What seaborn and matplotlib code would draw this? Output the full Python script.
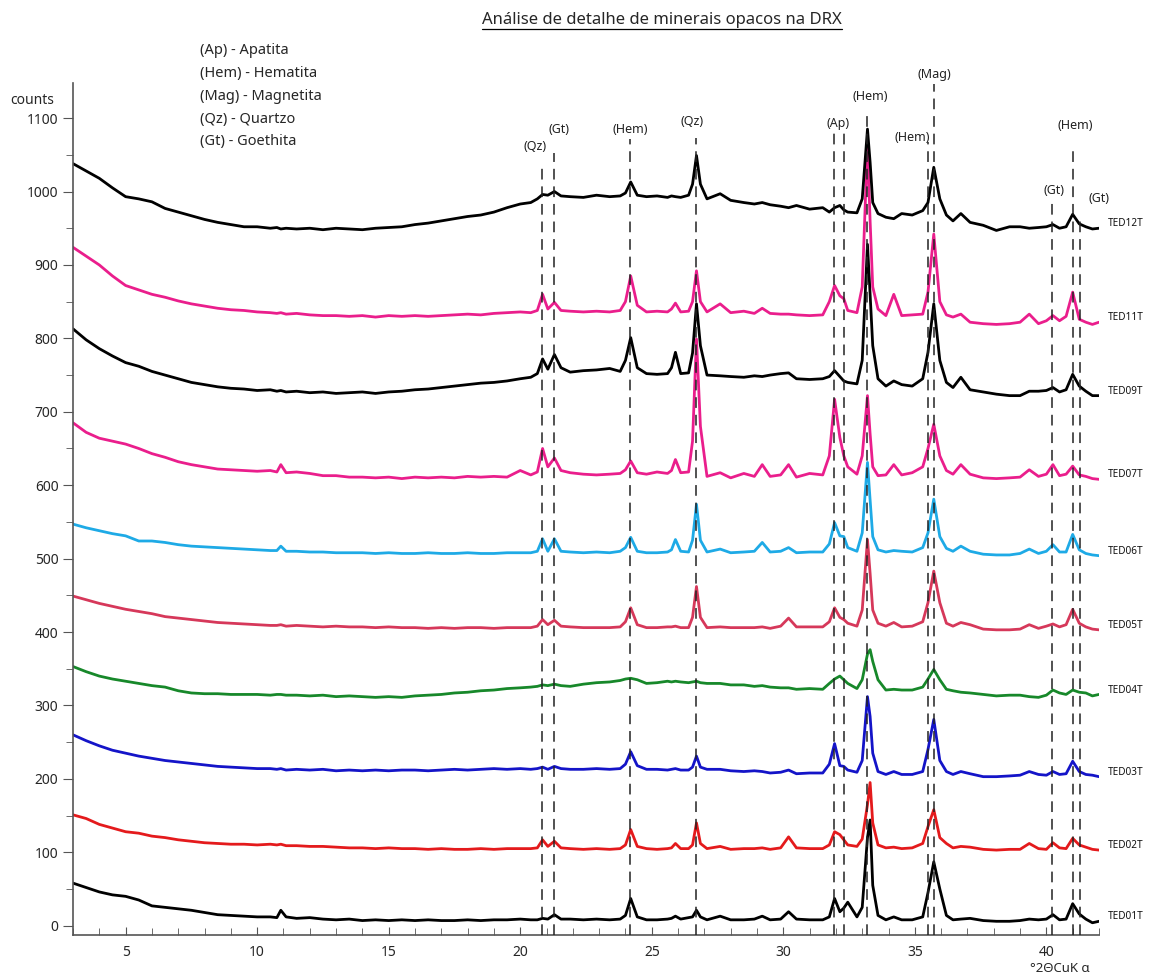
import numpy as np
import pandas as pd
import matplotlib
matplotlib.use("Agg")
import matplotlib.pyplot as plt
from matplotlib.ticker import MultipleLocator
from matplotlib.lines import Line2D
import seaborn as sns

# ---------------- data ----------------
two_theta = [3.0, 3.5, 4.0, 4.5, 5.0, 5.5, 6.0, 6.5, 7.0, 7.5,
             8.0, 8.5, 9.0, 9.5, 10.0, 10.5, 10.75, 10.9, 11.1, 11.5,
             12.0, 12.5, 13.0, 13.5, 14.0, 14.5, 15.0, 15.5, 16.0, 16.5,
             17.0, 17.5, 18.0, 18.5, 19.0, 19.5, 20.0, 20.4, 20.65, 20.85,
             21.05, 21.3, 21.55, 21.9, 22.4, 22.9, 23.4, 23.8, 24.0, 24.2,
             24.45, 24.8, 25.2, 25.6, 25.75, 25.9, 26.1, 26.4, 26.55, 26.7,
             26.85, 27.1, 27.6, 28.0, 28.5, 28.9, 29.2, 29.5, 29.9, 30.2,
             30.5, 31.0, 31.5, 31.75, 31.95, 32.15, 32.3, 32.45, 32.8, 33.0,
             33.2, 33.3, 33.4, 33.6, 33.9, 34.2, 34.5, 34.9, 35.3, 35.5,
             35.72, 35.95, 36.2, 36.45, 36.75, 37.1, 37.6, 38.1, 38.6, 39.0,
             39.35, 39.7, 40.0, 40.25, 40.5, 40.75, 41.0, 41.25, 41.5, 41.75,
             42.0]

TED01T = [58, 52, 46, 42, 40, 35, 27, 25, 23, 21,
          18, 15, 14, 13, 12, 12, 11, 21, 12, 10,
          11, 9, 8, 9, 7, 8, 7, 8, 7, 8,
          7, 7, 8, 7, 8, 8, 9, 8, 8, 10,
          9, 15, 9, 9, 8, 9, 8, 9, 14, 37,
          12, 8, 8, 9, 10, 13, 9, 11, 12, 21,
          12, 8, 13, 8, 8, 9, 13, 8, 9, 19,
          9, 8, 8, 12, 37, 19, 24, 32, 12, 25,
          120, 144, 55, 14, 8, 12, 8, 8, 12, 45,
          87, 50, 14, 8, 9, 10, 7, 6, 6, 7,
          9, 8, 9, 15, 8, 9, 30, 16, 9, 4,
          6]

TED02T = [151, 146, 138, 133, 128, 126, 122, 120, 117, 115,
          113, 112, 111, 111, 110, 111, 110, 111, 109, 109,
          108, 108, 107, 106, 106, 105, 106, 105, 105, 104,
          105, 104, 104, 105, 104, 105, 105, 105, 106, 117,
          108, 115, 106, 105, 104, 105, 104, 105, 110, 131,
          108, 105, 104, 105, 106, 112, 105, 105, 110, 140,
          112, 105, 108, 104, 105, 105, 106, 104, 106, 121,
          106, 105, 105, 110, 128, 124, 117, 110, 108, 118,
          165, 195, 140, 110, 106, 107, 105, 106, 112, 135,
          158, 120, 112, 106, 108, 107, 104, 103, 104, 104,
          112, 105, 104, 113, 106, 105, 119, 110, 107, 104,
          103]

TED03T = [260, 252, 245, 239, 235, 231, 228, 225, 223, 221,
          219, 217, 216, 215, 214, 214, 213, 214, 212, 213,
          212, 213, 211, 212, 211, 212, 211, 212, 212, 211,
          212, 213, 212, 213, 214, 213, 214, 213, 214, 216,
          213, 217, 214, 213, 213, 214, 213, 214, 220, 237,
          218, 213, 213, 212, 213, 214, 212, 212, 216, 231,
          216, 213, 213, 211, 210, 211, 210, 208, 209, 212,
          207, 208, 208, 220, 248, 218, 217, 212, 209, 225,
          312, 285, 235, 210, 206, 210, 206, 206, 210, 240,
          281, 225, 210, 206, 210, 207, 203, 203, 204, 205,
          210, 206, 205, 210, 206, 207, 224, 210, 206, 205,
          203]

TED04T = [353, 346, 340, 336, 333, 330, 327, 325, 320, 317,
          316, 316, 315, 315, 315, 314, 315, 315, 314, 314,
          313, 314, 312, 313, 312, 311, 312, 311, 313, 314,
          315, 317, 318, 320, 321, 323, 324, 325, 326, 328,
          327, 329, 327, 326, 329, 331, 332, 334, 336, 337,
          335, 330, 331, 333, 332, 333, 332, 331, 332, 333,
          331, 330, 330, 328, 328, 326, 327, 325, 324, 324,
          322, 323, 322, 330, 336, 340, 335, 330, 323, 335,
          370, 376, 360, 335, 321, 322, 321, 321, 325, 336,
          349, 335, 322, 320, 318, 317, 315, 313, 314, 314,
          312, 311, 314, 321, 317, 315, 321, 318, 317, 313,
          315]

TED05T = [449, 444, 439, 435, 431, 428, 425, 421, 419, 417,
          415, 413, 412, 411, 410, 409, 409, 410, 408, 409,
          408, 407, 408, 407, 407, 406, 407, 406, 406, 405,
          406, 405, 406, 406, 405, 406, 406, 406, 408, 417,
          410, 416, 408, 407, 406, 406, 406, 407, 414, 433,
          410, 406, 406, 407, 407, 408, 406, 406, 420, 462,
          420, 406, 407, 406, 406, 406, 407, 405, 408, 419,
          407, 407, 407, 414, 433, 420, 417, 412, 408, 430,
          526, 480, 430, 412, 408, 413, 407, 408, 414, 440,
          483, 440, 412, 408, 413, 410, 404, 403, 403, 404,
          410, 405, 408, 411, 407, 410, 431, 412, 407, 404,
          403]

TED06T = [547, 542, 538, 534, 531, 524, 524, 522, 519, 517,
          516, 515, 514, 513, 512, 511, 511, 517, 510, 510,
          509, 509, 508, 508, 508, 507, 508, 507, 507, 508,
          507, 507, 508, 507, 507, 508, 508, 508, 510, 527,
          510, 527, 510, 509, 508, 509, 508, 510, 515, 529,
          510, 508, 508, 509, 512, 526, 510, 509, 525, 574,
          525, 509, 513, 508, 509, 510, 522, 509, 510, 515,
          508, 509, 509, 520, 549, 531, 530, 515, 510, 535,
          631, 580, 530, 512, 509, 511, 510, 509, 515, 535,
          581, 530, 514, 510, 517, 510, 506, 505, 505, 507,
          513, 507, 510, 519, 509, 509, 533, 512, 507, 505,
          504]

TED07T = [685, 672, 664, 660, 656, 650, 643, 638, 632, 628,
          625, 622, 621, 620, 619, 620, 618, 628, 617, 618,
          616, 613, 613, 611, 611, 610, 611, 609, 611, 610,
          611, 610, 612, 611, 612, 611, 620, 614, 618, 650,
          625, 637, 620, 617, 615, 614, 615, 616, 621, 633,
          617, 615, 618, 616, 620, 635, 617, 618, 660, 799,
          680, 612, 617, 610, 616, 612, 628, 612, 614, 628,
          611, 616, 614, 640, 717, 665, 640, 625, 615, 640,
          722, 670, 625, 613, 614, 628, 614, 617, 625, 650,
          683, 640, 620, 615, 628, 615, 610, 609, 610, 611,
          621, 612, 615, 628, 613, 615, 626, 614, 612, 609,
          608]

TED09T = [813, 798, 786, 776, 767, 762, 755, 750, 745, 740,
          737, 734, 732, 731, 729, 730, 728, 729, 727, 728,
          726, 727, 725, 726, 727, 725, 727, 728, 730, 731,
          733, 735, 737, 739, 740, 742, 745, 747, 752, 772,
          758, 778, 760, 754, 756, 757, 759, 755, 770, 801,
          760, 752, 751, 752, 760, 781, 752, 753, 780, 847,
          790, 750, 749, 748, 747, 749, 748, 750, 752, 753,
          745, 744, 745, 748, 756, 748, 742, 740, 738, 770,
          928, 860, 790, 745, 735, 742, 737, 735, 745, 781,
          847, 770, 740, 733, 747, 730, 727, 724, 722, 722,
          728, 728, 729, 733, 727, 730, 751, 735, 728, 722,
          722]

TED11T = [924, 912, 900, 885, 872, 866, 860, 856, 851, 847,
          844, 841, 839, 838, 836, 835, 834, 835, 833, 834,
          832, 831, 831, 830, 831, 829, 831, 830, 831, 830,
          831, 832, 833, 832, 834, 835, 836, 835, 838, 860,
          840, 849, 838, 837, 836, 837, 836, 838, 850, 885,
          845, 836, 837, 836, 840, 848, 836, 837, 850, 892,
          850, 836, 847, 835, 837, 834, 841, 834, 833, 833,
          832, 831, 832, 850, 872, 858, 854, 838, 835, 870,
          1065, 960, 870, 840, 831, 860, 831, 832, 833, 863,
          942, 850, 832, 829, 833, 822, 820, 819, 820, 822,
          833, 820, 824, 831, 824, 830, 863, 826, 822, 819,
          822]

TED12T = [1038, 1028, 1018, 1005, 993, 990, 986, 977, 972, 967,
          962, 958, 955, 952, 952, 950, 951, 949, 950, 949,
          950, 948, 950, 949, 948, 950, 951, 952, 955, 957,
          960, 963, 966, 968, 972, 978, 983, 985, 990, 996,
          995, 1000, 994, 993, 992, 995, 993, 994, 998, 1013,
          995, 993, 994, 992, 994, 993, 992, 995, 1010, 1049,
          1010, 990, 997, 988, 985, 983, 985, 982, 980, 978,
          981, 976, 978, 972, 978, 981, 975, 972, 971, 990,
          1085, 1040, 985, 970, 965, 963, 970, 968, 974, 985,
          1033, 990, 968, 960, 970, 958, 954, 947, 952, 952,
          950, 951, 952, 955, 950, 952, 969, 956, 952, 949,
          950]

sample_names = ["TED01T", "TED02T", "TED03T", "TED04T", "TED05T",
                "TED06T", "TED07T", "TED09T", "TED11T", "TED12T"]
sample_values = [TED01T, TED02T, TED03T, TED04T, TED05T,
                 TED06T, TED07T, TED09T, TED11T, TED12T]
sample_colors = ["#000000", "#e41a1c", "#1414c8", "#17882a", "#d6385a",
                 "#1eaae6", "#ea1e8c", "#000000", "#ea1e8c", "#000000"]

# reference peak lines: position, label, label y, line top
peak_pos = [20.83, 21.30, 24.17, 26.70, 31.93, 32.29, 33.20, 35.50, 35.74, 40.22, 41.02, 41.27]
peak_lab = ["(Qz)", "(Gt)", "(Hem)", "(Qz)", "", "(Ap)", "(Hem)", "(Hem)", "(Mag)", "(Gt)", "(Hem)", "(Gt)"]
peak_top = [1040, 1053, 1072, 1073, 1083, 1083, 1106, 1068, 1147, 986, 1061, 967]
label_x = [20.55, 21.48, 24.17, 26.55, 32.1, 32.1, 33.3, 34.9, 35.73, 40.3, 41.1, 42.0]
label_y = [1061, 1085, 1084, 1096, 1092, 1092, 1129, 1074, 1160, 1002, 1090, 990]

legend_lines = ["(Ap) - Apatita", "(Hem) - Hematita", "(Mag) - Magnetita",
                "(Qz) - Quartzo", "(Gt) - Goethita"]

title = "Análise de detalhe de minerais opacos na DRX"

for n, v in zip(sample_names, sample_values):
    assert len(v) == len(two_theta), (n, len(v))

# ---------------- plot ----------------
sns.set_style("ticks")
plt.rcParams["font.family"] = ["Noto Sans", "DejaVu Sans"]

fig = plt.figure(figsize=(11.55, 9.75), dpi=100)
ax = fig.add_axes([0.0632, 0.041, 0.8883, 0.874])

df = pd.concat([pd.DataFrame({"x": two_theta, "y": v, "sample": n})
                for n, v in zip(sample_names, sample_values)], ignore_index=True)
sns.lineplot(data=df, x="x", y="y", hue="sample", hue_order=sample_names,
             palette=dict(zip(sample_names, sample_colors)), legend=False,
             sort=False, estimator=None, linewidth=2.0, ax=ax)

ymin, ymax = -12.7, 1148
ax.set_xlim(3, 42)
ax.set_ylim(ymin, ymax)

for p, t in zip(peak_pos, peak_top):
    ax.vlines(p, ymin, t, colors="#222222", linewidth=1.1,
              linestyles=(0, (7, 4.5)), zorder=5)
for lx, ly, lab in zip(label_x, label_y, peak_lab):
    if lab:
        ax.text(lx, ly, lab, ha="center", va="center", fontsize=9, color="#222222",
                clip_on=False)

for n, v in zip(sample_names, sample_values):
    ax.text(42.35, v[-1] + 6, n, ha="left", va="center", fontsize=7.2,
            color="#111111", clip_on=False)

# axes styling
sns.despine(ax=ax)
ax.spines["left"].set_color("#555555")
ax.spines["bottom"].set_color("#555555")
ax.spines["left"].set_linewidth(1.2)
ax.spines["bottom"].set_linewidth(1.2)
ax.xaxis.set_major_locator(MultipleLocator(5))
ax.xaxis.set_minor_locator(MultipleLocator(1))
ax.yaxis.set_major_locator(MultipleLocator(100))
ax.yaxis.set_minor_locator(MultipleLocator(50))
ax.tick_params(axis="x", which="both", direction="in", color="#555555",
               labelsize=10, pad=7)
ax.tick_params(axis="x", which="major", length=6)
ax.tick_params(axis="x", which="minor", length=5)
ax.tick_params(axis="y", which="both", direction="out", color="#555555",
               labelsize=10)
ax.tick_params(axis="y", which="major", length=7)
ax.tick_params(axis="y", which="minor", length=5)
ax.set_xlabel("")
ax.set_ylabel("")

fig.text(10 / 1155, 1 - 100 / 975, "counts", fontsize=10, ha="left", va="center")
fig.text(1030 / 1155, 1 - 968 / 975, "°2ΘCuK α", fontsize=9.5, ha="left", va="center")

for i, line in enumerate(legend_lines):
    fig.text(200 / 1155, 1 - (50 + i * 23) / 975, line, fontsize=10.5,
             ha="left", va="center")

ttl = fig.text(0.573, 1 - 20 / 975, title, fontsize=12, ha="center", va="center")
fig.canvas.draw()
bb = ttl.get_window_extent(renderer=fig.canvas.get_renderer())
W, H = fig.get_size_inches() * fig.dpi
uy = (bb.y0 - 1) / H
fig.add_artist(Line2D([bb.x0 / W, bb.x1 / W], [uy, uy], color="black", linewidth=0.9))

fig.savefig("out.png", dpi=100)
